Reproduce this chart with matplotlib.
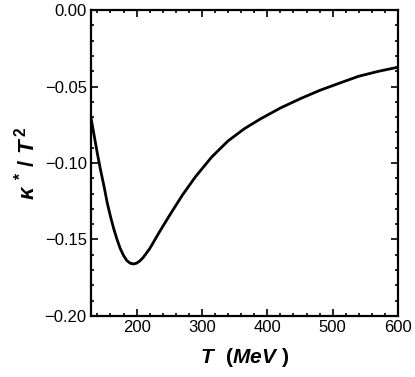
import matplotlib
matplotlib.use('Agg')
import matplotlib.pyplot as plt
from matplotlib.ticker import MultipleLocator, FuncFormatter

# Valores
T_mev = [130, 135, 140, 145, 150, 155, 160, 165, 170, 175, 180, 185, 190, 195,
         200, 205, 210, 220, 235, 250, 270, 290, 315, 340, 365, 390, 420,
         450, 480, 510, 540, 570, 600]
kappa = [-0.070, -0.082, -0.094, -0.105, -0.115, -0.126, -0.135, -0.143, -0.150,
         -0.156, -0.1605, -0.1638, -0.1655, -0.1660, -0.1655, -0.1640, -0.1618,
         -0.1560, -0.1450, -0.1345, -0.1210, -0.1090, -0.0960, -0.0855, -0.0775,
         -0.0710, -0.0640, -0.0580, -0.0525, -0.0478, -0.0432, -0.0400, -0.0373]

plt.rcParams['font.family'] = ['Liberation Sans', 'DejaVu Sans']
plt.rcParams['mathtext.fontset'] = 'custom'
plt.rcParams['mathtext.rm'] = 'Liberation Sans:bold'
plt.rcParams['mathtext.it'] = 'Liberation Sans:bold:italic'
plt.rcParams['mathtext.bf'] = 'Liberation Sans:bold:italic'

fig = plt.figure(figsize=(4.15, 3.77), dpi=100)
ax = fig.add_axes([0.219, 0.162, 0.740, 0.811])

ax.plot(T_mev, kappa, color='black', lw=2.0)

ax.set_xlim(130, 600)
ax.set_ylim(-0.20, 0.00)
ax.xaxis.set_major_locator(MultipleLocator(100))
ax.xaxis.set_minor_locator(MultipleLocator(20))
ax.yaxis.set_major_locator(MultipleLocator(0.05))
ax.yaxis.set_minor_locator(MultipleLocator(0.01))
ax.yaxis.set_major_formatter(FuncFormatter(lambda v, p: f'{v:.2f}'.replace('-', '\u2212')))

ax.tick_params(which='both', direction='in', top=True, right=True, width=1.2)
ax.tick_params(which='major', length=5, labelsize=12, pad=3)
ax.tick_params(which='minor', length=2.5)
for s in ax.spines.values():
    s.set_linewidth(1.6)

ax.set_xlabel(r'$T\ \ (MeV\ )$', fontsize=15, labelpad=8)
ax.set_ylabel(r'$\kappa^{\ *}\,/\ T^{\,2}$', fontsize=16, labelpad=4)

fig.savefig('out.png', dpi=100)
